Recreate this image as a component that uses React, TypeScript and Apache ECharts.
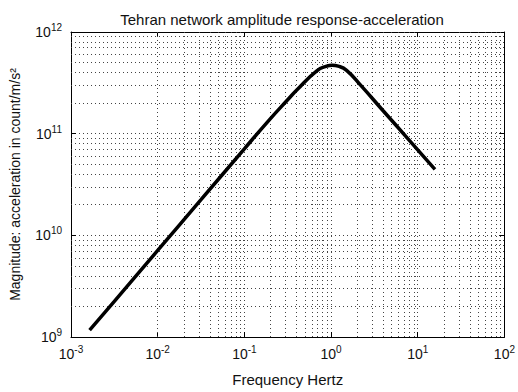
import React, { useEffect, useRef } from "react";
import * as echarts from "echarts";

const freqHz = [0.00164, 0.00316, 0.01, 0.0316, 0.1, 0.193, 0.312, 0.405, 0.685, 0.891, 1.03, 1.21, 1.51, 2.23, 3.94, 8.0, 15.8];
const accelCount = [1.17e9, 2.24e9, 7.1e9, 2.24e10, 7.1e10, 1.36e11, 2.13e11, 2.7e11, 4.15e11, 4.62e11, 4.72e11, 4.62e11, 4.2e11, 2.95e11, 1.7e11, 8.6e10, 4.45e10];
const xDecades = [-3, -2, -1, 0, 1, 2];
const yDecades = [9, 10, 11, 12];
const minorMultipliers = [2, 3, 4, 5, 6, 7, 8, 9];
const titleText = "Tehran network amplitude response-acceleration";
const xTitle = "Frequency Hertz";
const yTitle = "Magnitude: acceleration in count/m/s²";

const FONT = "Liberation Sans, Arial, sans-serif";

function minorValues(decades: number[]) {
  const out: number[] = [];
  for (let i = 0; i < decades.length - 1; i++) {
    for (const m of minorMultipliers) out.push(m * Math.pow(10, decades[i]));
  }
  return out;
}

const labelFmt = (v: number) => {
  const e = Math.round(Math.log10(v));
  return `{b|10}{s|${e}}`;
};
const rich = {
  b: { fontSize: 14, fontFamily: FONT, color: "#111" },
  s: { fontSize: 10, fontFamily: FONT, color: "#111", padding: [0, 0, 9, 0] },
};

export default function App() {
  const ref = useRef<HTMLDivElement>(null);
  useEffect(() => {
    const chart = echarts.init(ref.current!, null, { renderer: "svg" });
    const dotted = { color: "#444", width: 1, type: [1, 3] as any };
    const xMinor = minorValues(xDecades);
    const yMinor = minorValues(yDecades);
    const xMin = Math.pow(10, xDecades[0]);
    const xMax = Math.pow(10, xDecades[xDecades.length - 1]);
    const yMin = Math.pow(10, yDecades[0]);
    const yMax = Math.pow(10, yDecades[yDecades.length - 1]);
    const axisCommon = {
      type: "log" as const,
      logBase: 10,
      axisLine: { show: true, lineStyle: { color: "#000", width: 1 } },
      axisTick: { show: true, inside: true, length: 5, lineStyle: { color: "#000" } },
    };
    chart.setOption({
      animation: false,
      backgroundColor: "#fff",
      grid: { left: 71, right: 8, top: 32, bottom: 43, show: false },
      graphic: [
        {
          type: "text",
          x: 282,
          y: 19,
          style: {
            text: titleText,
            font: `15px ${FONT}`,
            fill: "#111",
            textAlign: "center",
            textVerticalAlign: "middle",
          },
        },
      ],
      xAxis: [
        {
          ...axisCommon,
          min: xMin,
          max: xMax,
          interval: 1,
          name: xTitle,
          nameLocation: "middle",
          nameGap: 35,
          nameTextStyle: { fontSize: 15, fontFamily: FONT, color: "#111" },
          axisLabel: { formatter: labelFmt, rich, margin: 7 },
          splitLine: { show: true, lineStyle: dotted },
        },
        {
          ...axisCommon,
          position: "top",
          min: xMin,
          max: xMax,
          interval: 1,
          axisLabel: { show: false },
          splitLine: { show: false },
        },
      ],
      yAxis: [
        {
          ...axisCommon,
          min: yMin,
          max: yMax,
          interval: 1,
          name: yTitle,
          nameLocation: "middle",
          nameGap: 49,
          nameTextStyle: { fontSize: 14, fontFamily: FONT, color: "#111" },
          axisLabel: { formatter: labelFmt, rich, margin: 9 },
          splitLine: { show: true, lineStyle: dotted },
        },
        {
          ...axisCommon,
          position: "right",
          min: yMin,
          max: yMax,
          interval: 1,
          axisLabel: { show: false },
          splitLine: { show: false },
        },
      ],
      series: [
        {
          type: "line",
          data: freqHz.map((f, i) => [f, accelCount[i]]),
          showSymbol: false,
          smooth: 0.5,
          z: 5,
          lineStyle: { color: "#000", width: 3.5 },
          markLine: {
            silent: true,
            symbol: "none",
            label: { show: false },
            lineStyle: dotted,
            z: 1,
            data: [
              ...xMinor.map((v) => ({ xAxis: v })),
              ...yMinor.map((v) => ({ yAxis: v })),
            ],
          },
        },
      ],
    });
    return () => chart.dispose();
  }, []);
  return (
    <div
      ref={ref}
      style={{ position: "fixed", left: 0, top: 0, width: 518, height: 392, background: "#fff" }}
    />
  );
}
